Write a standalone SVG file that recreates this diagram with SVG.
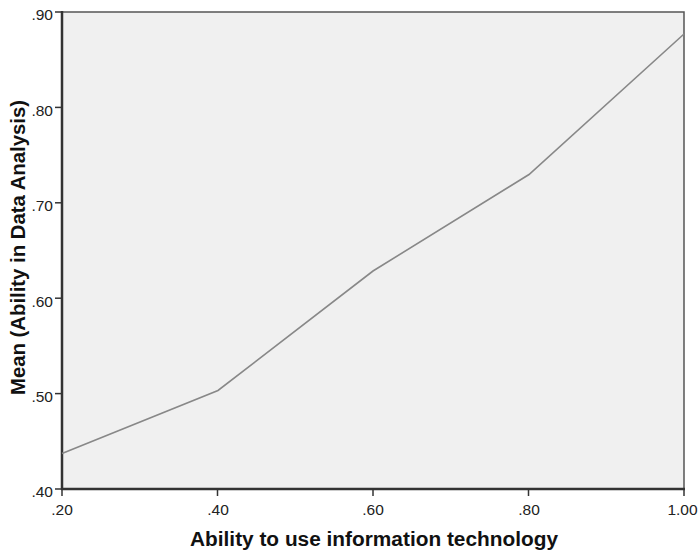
<svg xmlns="http://www.w3.org/2000/svg" width="699" height="550" viewBox="0 0 699 550">
<style>
.tick{stroke:#333;stroke-width:1.5}
.lbl{font-family:"Liberation Sans",Arial,sans-serif;font-size:15.5px;fill:#222}
.title{font-family:"Liberation Sans",Arial,sans-serif;font-size:20px;font-weight:bold;fill:#111}
</style>
<rect x="0" y="0" width="699" height="550" fill="#fff"/>
<g id="plot">
<rect x="62" y="12" width="622" height="477" fill="#f0f0f0" stroke="#555" stroke-width="1.5"/>
<line x1="62" y1="11" x2="62" y2="490" stroke="#333" stroke-width="2.5"/>
<line x1="61" y1="489" x2="685" y2="489" stroke="#333" stroke-width="2.5"/>
</g>
<g id="yaxis">
<line class="tick" x1="55" y1="12" x2="62" y2="12"/>
<line class="tick" x1="55" y1="107.4" x2="62" y2="107.4"/>
<line class="tick" x1="55" y1="202.8" x2="62" y2="202.8"/>
<line class="tick" x1="55" y1="298.2" x2="62" y2="298.2"/>
<line class="tick" x1="55" y1="393.6" x2="62" y2="393.6"/>
<line class="tick" x1="55" y1="489" x2="62" y2="489"/>
<g class="lbl" text-anchor="end">
<text x="53" y="20">.90</text>
<text x="53" y="115.5">.80</text>
<text x="53" y="211">.70</text>
<text x="53" y="306.5">.60</text>
<text x="53" y="402">.50</text>
<text x="53" y="497">.40</text>
</g>
<text class="title" transform="translate(25,247.5) rotate(-90)" text-anchor="middle" textLength="295" lengthAdjust="spacingAndGlyphs">Mean (Ability in Data Analysis)</text>
</g>
<g id="xaxis">
<line class="tick" x1="62" y1="489" x2="62" y2="496"/>
<line class="tick" x1="217.5" y1="489" x2="217.5" y2="496"/>
<line class="tick" x1="373" y1="489" x2="373" y2="496"/>
<line class="tick" x1="528.5" y1="489" x2="528.5" y2="496"/>
<line class="tick" x1="684" y1="489" x2="684" y2="496"/>
<g class="lbl" text-anchor="middle">
<text x="62" y="515">.20</text>
<text x="218" y="515">.40</text>
<text x="373" y="515">.60</text>
<text x="529" y="515">.80</text>
<text x="682.5" y="515">1.00</text>
</g>
<text class="title" x="374" y="546" text-anchor="middle" textLength="368" lengthAdjust="spacingAndGlyphs">Ability to use information technology</text>
</g>
<g id="connectors">
<polyline points="62,453.5 218,390.5 373,271 529,174.5 684,34" fill="none" stroke="#888" stroke-width="1.6"/>
</g>
</svg>
